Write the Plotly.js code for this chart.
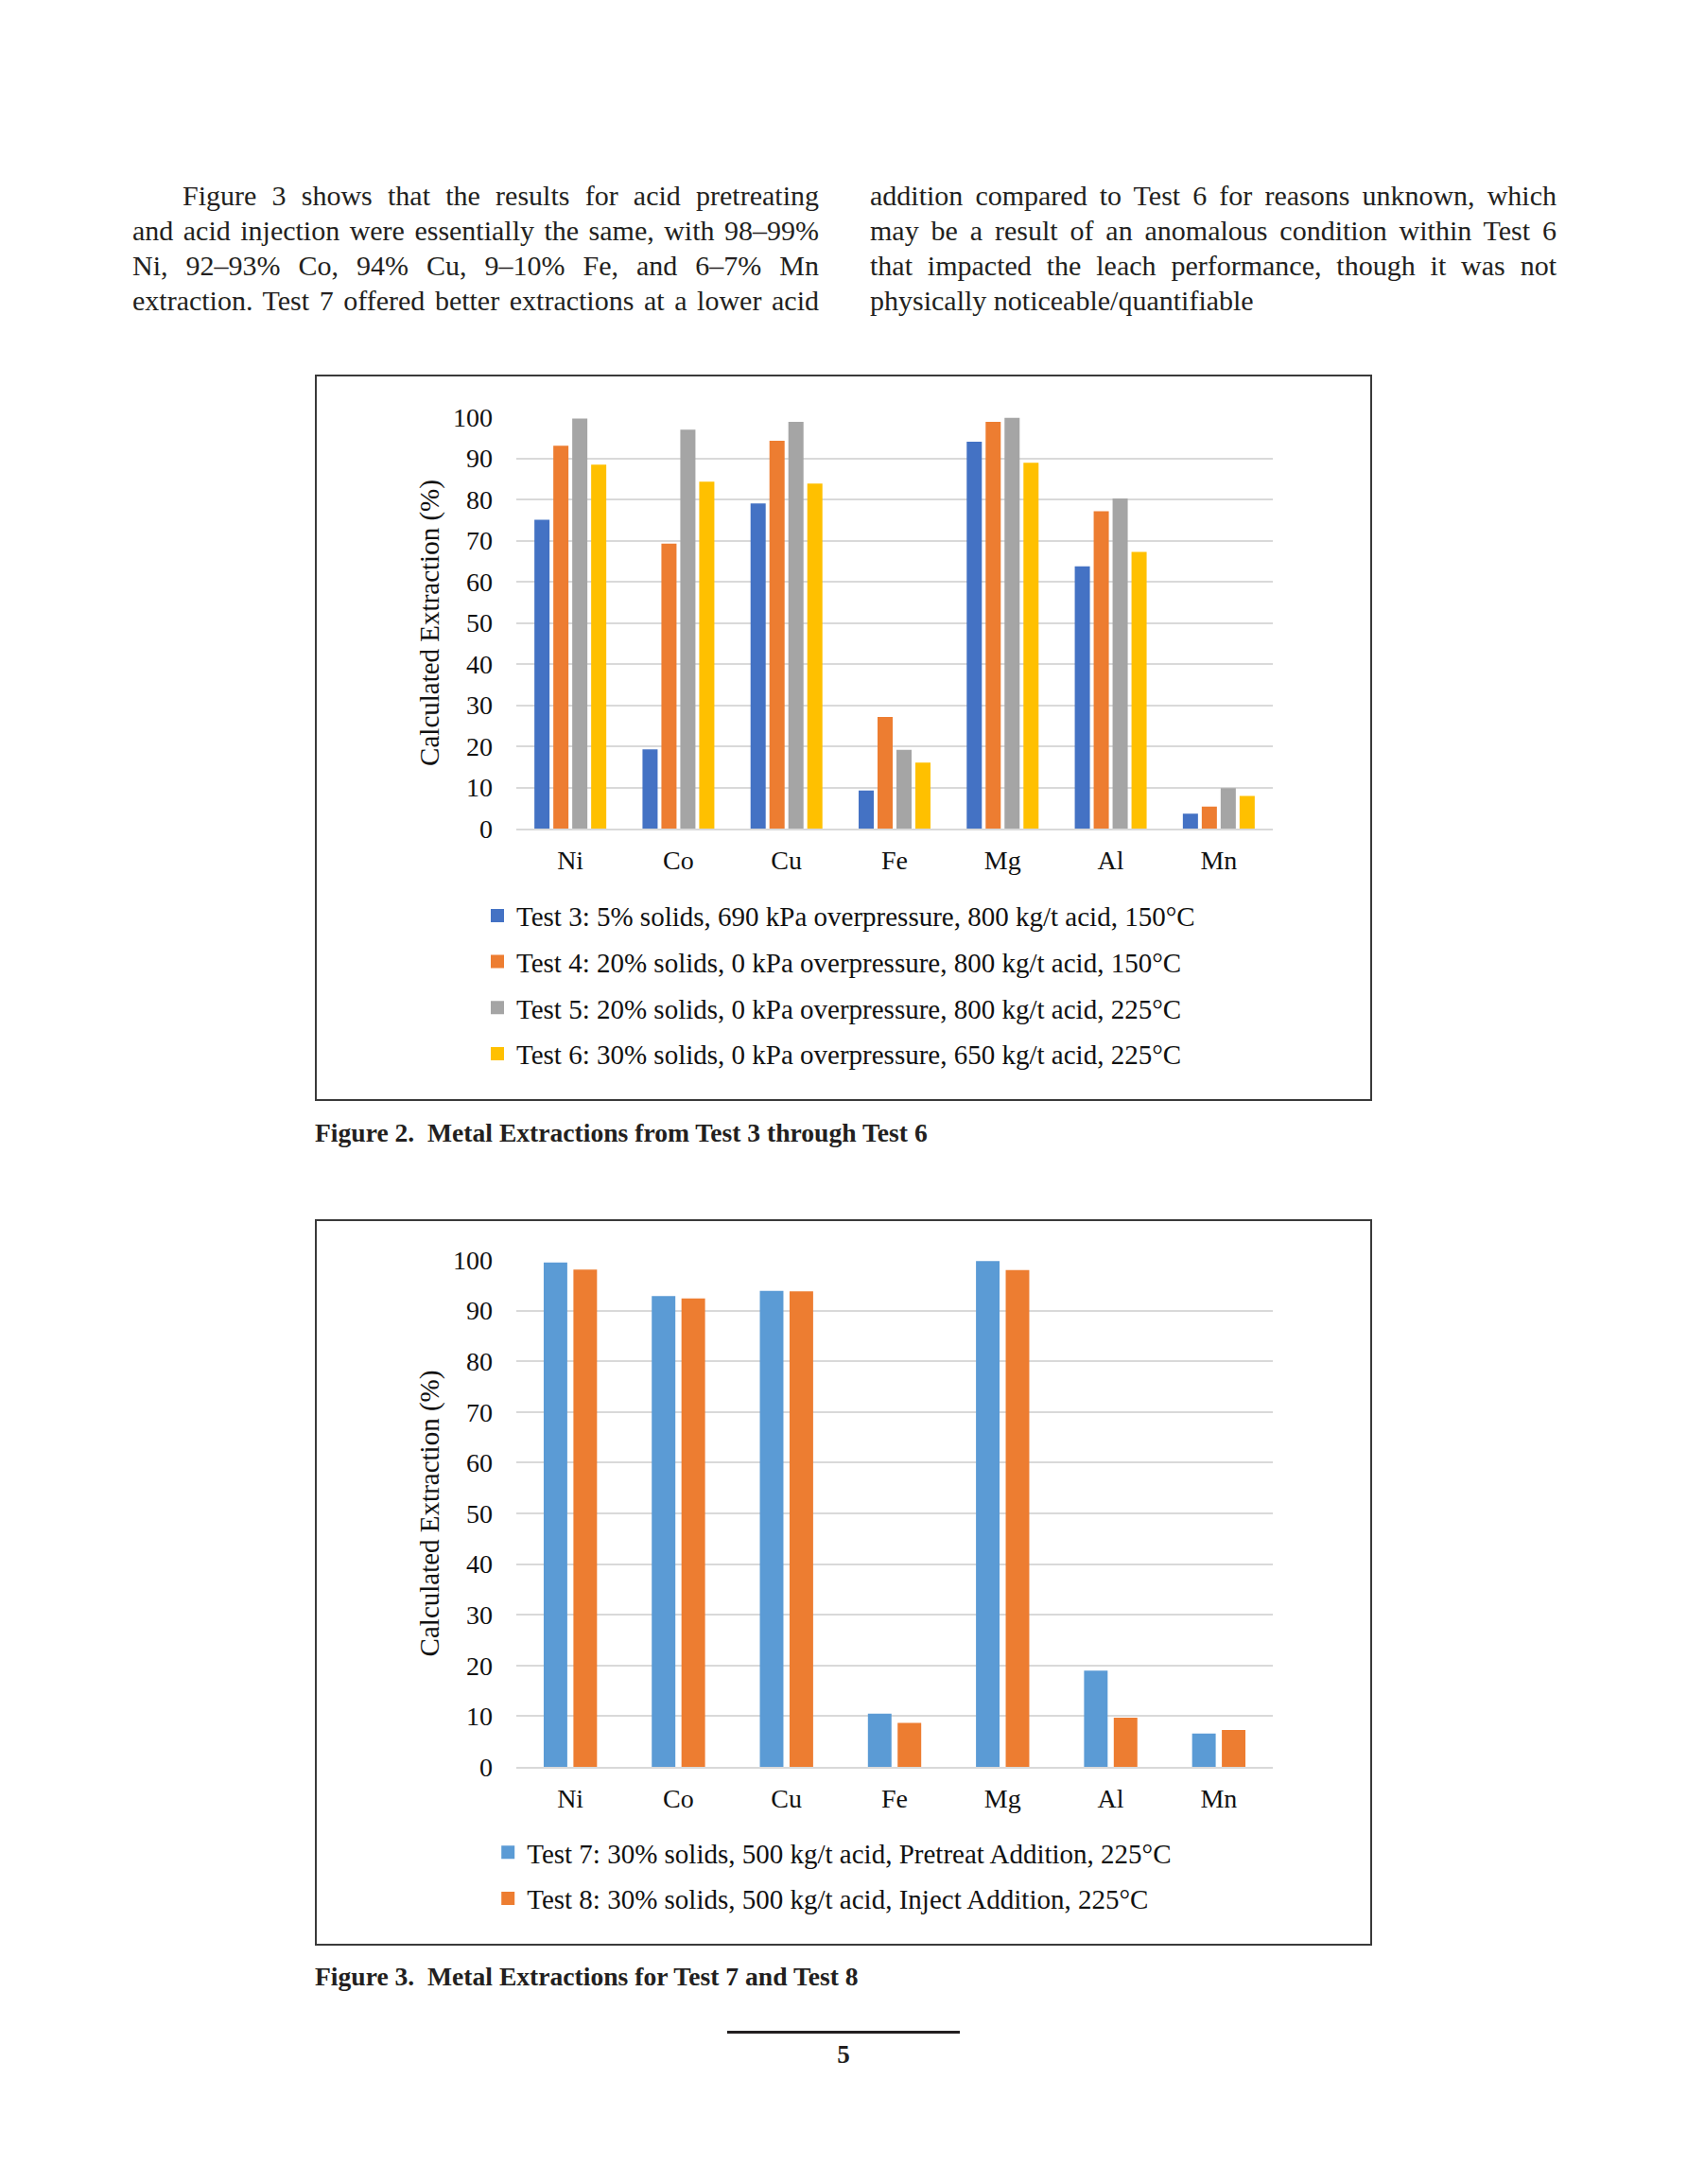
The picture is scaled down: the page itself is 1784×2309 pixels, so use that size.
<!DOCTYPE html>
<html>
<head>
<meta charset="utf-8">
<script src="https://cdn.plot.ly/plotly-3.0.1.min.js"></script>
<style>
html,body{margin:0;padding:0;background:#ffffff;}
#page{position:relative;width:1784px;height:2309px;background:#ffffff;font-family:"Liberation Serif","Times New Roman",serif;color:#231f20;overflow:hidden;}
.ln{position:absolute;font-family:"Liberation Serif","Times New Roman",serif;font-size:30px;line-height:37px;height:37px;text-align:justify;text-align-last:justify;white-space:nowrap;}
.ln.last{text-align:left;text-align-last:left;}
.box{position:absolute;left:333px;width:1114px;height:764px;border:2px solid #3a3a3a;background:#fff;}
.cap{position:absolute;left:333px;font-family:"Liberation Serif","Times New Roman",serif;font-weight:bold;font-size:27.6px;line-height:34px;white-space:nowrap;}
#rule{position:absolute;left:769px;top:2147px;width:246px;height:3px;background:#231f20;}
#pnum{position:absolute;left:842px;width:100px;text-align:center;top:2155px;font-family:"Liberation Serif","Times New Roman",serif;font-weight:bold;font-size:27px;line-height:34px;}
</style>
</head>
<body>
<div id="page">
  <div class="ln" style="left:140px;width:726px;top:188px;text-indent:53px;">Figure 3 shows that the results for acid pretreating</div>
  <div class="ln" style="left:140px;width:726px;top:225px;">and acid injection were essentially the same, with 98–99%</div>
  <div class="ln" style="left:140px;width:726px;top:262px;">Ni, 92–93% Co, 94% Cu, 9–10% Fe, and 6–7% Mn</div>
  <div class="ln" style="left:140px;width:726px;top:299px;">extraction. Test 7 offered better extractions at a lower acid</div>
  <div class="ln" style="left:920px;width:726px;top:188px;">addition compared to Test 6 for reasons unknown, which</div>
  <div class="ln" style="left:920px;width:726px;top:225px;">may be a result of an anomalous condition within Test 6</div>
  <div class="ln" style="left:920px;width:726px;top:262px;">that impacted the leach performance, though it was not</div>
  <div class="ln last" style="left:920px;width:726px;top:299px;">physically noticeable/quantifiable</div>

  <div class="box" style="top:396px;"><div id="chart1" style="width:1114px;height:764px;"></div></div>
  <div class="cap" style="top:1181px;">Figure 2.&nbsp; Metal Extractions from Test 3 through Test 6</div>

  <div class="box" style="top:1289px;"><div id="chart2" style="width:1114px;height:764px;"></div></div>
  <div class="cap" style="top:2073px;">Figure 3.&nbsp; Metal Extractions for Test 7 and Test 8</div>

  <div id="rule"></div>
  <div id="pnum">5</div>
</div>
<script>
// ---- Data ----
const metals = ['Ni', 'Co', 'Cu', 'Fe', 'Mg', 'Al', 'Mn'];

const test3 = [74.8, 19.0, 78.8, 9.0, 93.8, 63.5, 3.4];
const test4 = [92.8, 69.0, 94.0, 26.9, 98.6, 76.9, 5.1];
const test5 = [99.4, 96.7, 98.6, 18.9, 99.6, 80.0, 9.6];
const test6 = [88.2, 84.1, 83.6, 15.8, 88.7, 67.0, 7.7];

const test7 = [99.3, 92.7, 93.7, 10.3, 99.6, 18.8, 6.4];
const test8 = [97.9, 92.2, 93.6, 8.5, 97.8, 9.5, 7.1];

const names1 = [
  'Test 3: 5% solids, 690 kPa overpressure, 800 kg/t acid, 150°C',
  'Test 4: 20% solids, 0 kPa overpressure, 800 kg/t acid, 150°C',
  'Test 5: 20% solids, 0 kPa overpressure, 800 kg/t acid, 225°C',
  'Test 6: 30% solids, 0 kPa overpressure, 650 kg/t acid, 225°C'
];
const names2 = [
  'Test 7: 30% solids, 500 kg/t acid, Pretreat Addition, 225°C',
  'Test 8: 30% solids, 500 kg/t acid, Inject Addition, 225°C'
];
const yTitle = 'Calculated Extraction (%)';

// ---- Styles ----
const colors1 = ['#4472C4', '#ED7D31', '#A5A5A5', '#FFC000'];
const colors2 = ['#5B9BD5', '#ED7D31'];
const FONT = '"Liberation Serif", "Times New Roman", serif';
const INK = '#111111';

function makeTraces(series, names, colors) {
  return series.map((s, i) => ({
    type: 'bar', x: metals, y: s, name: names[i],
    legendgroup: 'g' + i,
    marker: {color: colors[i], line: {width: 2, color: colors[i]}},
    hoverinfo: 'none'
  }));
}

function makeLayout(margin, bargap, bargroupgap, legendX, legendY, gap) {
  return {
    width: 1114, height: 764,
    paper_bgcolor: '#ffffff', plot_bgcolor: '#ffffff',
    margin: margin,
    font: {family: FONT, size: 28, color: INK},
    barmode: 'group', bargap: bargap, bargroupgap: bargroupgap,
    showlegend: true,
    legend: {
      orientation: 'v', x: legendX, xanchor: 'left', y: legendY, yanchor: 'top',
      font: {family: FONT, size: 29, color: INK},
      tracegroupgap: gap, itemwidth: 30, bgcolor: 'rgba(0,0,0,0)'
    },
    xaxis: {
      type: 'category', showgrid: false, zeroline: false,
      showline: true, linecolor: '#d9d9d9', linewidth: 2,
      ticks: '', ticklabelstandoff: 7,
      tickfont: {family: FONT, size: 28, color: INK}
    },
    yaxis: {
      range: [0, 100], dtick: 10, tick0: 0,
      showgrid: true, gridcolor: '#d9d9d9', gridwidth: 2,
      zeroline: false, showline: false, ticks: '', ticklabelstandoff: 24,
      tickfont: {family: FONT, size: 28, color: INK},
      title: {text: yTitle, standoff: 5, font: {family: FONT, size: 29, color: INK}}
    }
  };
}

Plotly.newPlot('chart1',
  makeTraces([test3, test4, test5, test6], names1, colors1),
  makeLayout({l: 211, r: 103, t: 43, b: 286}, 0.30, 0.30, -0.05, -0.153, 8),
  {displayModeBar: false, staticPlot: true});

Plotly.newPlot('chart2',
  makeTraces([test7, test8], names2, colors2),
  makeLayout({l: 211, r: 103, t: 41, b: 187}, 0.45, 0.27, -0.036, -0.121, 8),
  {displayModeBar: false, staticPlot: true});
</script>
</body>
</html>
